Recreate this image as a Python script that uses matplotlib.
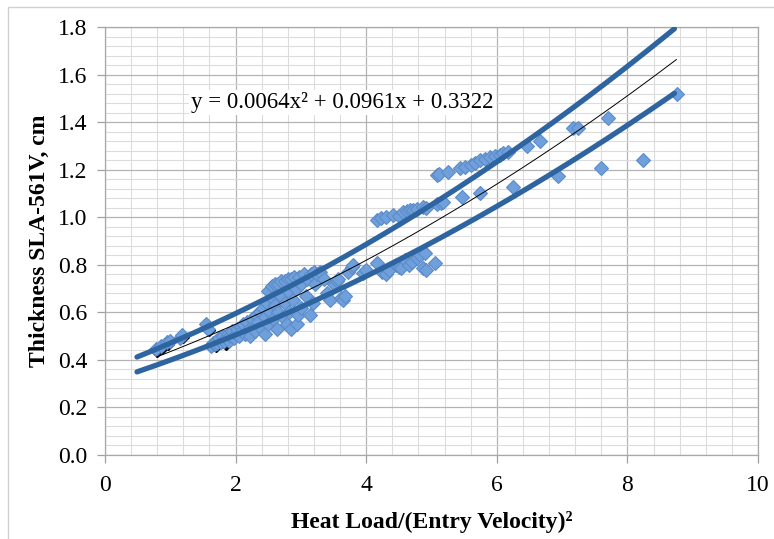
import matplotlib
matplotlib.use("Agg")
import matplotlib.pyplot as plt
import numpy as np
from matplotlib.patches import Rectangle

# ---- data ----
x_pts = [0.78, 0.85, 0.95, 1.00, 1.15, 1.18, 1.55, 1.58,
         1.62, 1.65, 1.68, 1.70, 1.72, 1.75, 1.78, 1.80, 1.82, 1.85, 1.88, 1.90,
         1.92, 1.95, 1.98, 2.00, 2.02, 2.05, 2.08, 2.10, 2.12, 2.15, 2.18, 2.20,
         2.22, 2.25, 2.28, 2.30, 2.32, 2.35, 2.38, 2.40, 2.42, 2.45, 2.45, 2.48,
         2.50, 2.50, 2.52, 2.55, 2.55, 2.58, 2.60, 2.60, 2.63, 2.65, 2.65, 2.70,
         2.70, 2.72, 2.75, 2.75, 2.78, 2.80, 2.80, 2.82, 2.85, 2.85, 2.88, 2.90,
         2.92, 2.94, 2.95, 2.97, 3.00, 3.00, 3.05, 3.08, 3.10, 3.14, 3.15, 3.18,
         3.20, 3.22, 3.25, 3.30, 3.35, 3.40, 3.45, 3.50, 3.55, 3.57, 3.62, 3.65,
         3.68, 3.72, 3.78, 3.80,
         3.95, 4.00, 4.16, 4.24, 4.30, 4.35, 4.45, 4.50, 4.54, 4.60, 4.65, 4.70,
         4.78, 4.82, 4.87, 4.90, 4.92, 5.05,
         4.16, 4.22, 4.31, 4.41, 4.50, 4.57, 4.62, 4.67, 4.72, 4.78, 4.87, 4.92,
         5.08, 5.15, 5.18,
         5.08, 5.12, 5.25, 5.44, 5.51, 5.60, 5.67, 5.74, 5.82, 5.90, 5.98, 6.05,
         6.10, 6.17, 6.46, 6.66, 7.17, 7.25, 7.71, 8.76,
         5.46, 5.74, 6.25, 6.94, 7.60, 8.24]
y_pts = [0.445, 0.460, 0.475, 0.480, 0.490, 0.505, 0.550, 0.530,
         0.460, 0.470, 0.465, 0.480, 0.470, 0.490, 0.475, 0.500, 0.480, 0.490, 0.510, 0.480,
         0.500, 0.520, 0.490, 0.510, 0.530, 0.500, 0.540, 0.520, 0.550, 0.510, 0.560, 0.530,
         0.500, 0.570, 0.540, 0.520, 0.590, 0.560, 0.600, 0.530, 0.620, 0.510, 0.580, 0.640,
         0.550, 0.690, 0.600, 0.710, 0.660, 0.570, 0.720, 0.630, 0.530, 0.600, 0.720, 0.730,
         0.670, 0.580, 0.730, 0.640, 0.550, 0.740, 0.690, 0.600, 0.740, 0.530, 0.650, 0.750,
         0.700, 0.550, 0.590, 0.750, 0.720, 0.620, 0.760, 0.670, 0.740, 0.590, 0.760, 0.640,
         0.770, 0.720, 0.760, 0.770, 0.740, 0.680, 0.650, 0.720, 0.730, 0.740, 0.660, 0.650,
         0.670, 0.770, 0.790, 0.800,
         0.765, 0.780, 0.807, 0.771, 0.760, 0.780, 0.800, 0.790, 0.786, 0.820, 0.800, 0.810,
         0.830, 0.840, 0.786, 0.850, 0.780, 0.807,
         0.988, 0.995, 1.000, 1.010, 1.005, 1.020, 1.025, 1.030, 1.030, 1.035, 1.044, 1.040,
         1.055, 1.060, 1.065,
         1.177, 1.180, 1.190, 1.205, 1.210, 1.220, 1.228, 1.240, 1.245, 1.254, 1.258, 1.260,
         1.270, 1.275, 1.300, 1.320, 1.375, 1.375, 1.417, 1.518,
         1.086, 1.100, 1.128, 1.173, 1.208, 1.240]

# dark (shadow) series near the low end
x_dark = [0.80, 0.87, 0.97, 1.20, 1.60, 1.70, 1.85]
y_dark = [0.438, 0.452, 0.465, 0.495, 0.527, 0.458, 0.465]

# quadratic trendline coefficients (as displayed) and band factors
coef = [0.0064, 0.0961, 0.3322]
trend_range = [0.79, 8.75]
band_range = [0.49, 8.72]
band_upper = 1.082
band_lower = 0.918

x_ticks = [0, 2, 4, 6, 8, 10]
y_ticks = [0.0, 0.2, 0.4, 0.6, 0.8, 1.0, 1.2, 1.4, 1.6, 1.8]

plt.rcParams['font.family'] = ['Liberation Serif', 'DejaVu Serif']

W, H = 774, 539
fig = plt.figure(figsize=(W / 100, H / 100), dpi=100)
ax = fig.add_axes([105 / W, 1 - 455 / H, (758 - 105) / W, (455 - 27) / H])

# outer chart-area frame
fig.patches.append(Rectangle((8 / W, -0.05), 1.0, 1 - 7 / H + 0.05, transform=fig.transFigure,
                             fill=False, edgecolor='#d0d0d0', linewidth=1.0))

ax.set_xlim(0, 10)
ax.set_ylim(0, 1.8)
ax.set_xticks(x_ticks)
ax.set_yticks(y_ticks)
ax.set_xticklabels([str(v) for v in x_ticks])
ax.set_yticklabels([f"{v:.1f}" for v in y_ticks])
ax.set_xticks(np.arange(0, 10.01, 0.4), minor=True)
ax.set_yticks(np.arange(0, 1.801, 0.04), minor=True)
ax.grid(which='major', color='#b4b4b4', linewidth=0.9)
ax.grid(which='minor', color='#dcdcdc', linewidth=0.8)
ax.set_axisbelow(True)
ax.tick_params(which='major', direction='out', length=5.5, width=0.9, color='#a0a0a0',
               labelsize=17)
ax.tick_params(axis='x', which='major', pad=9)
ax.tick_params(axis='y', which='major', pad=7)
ax.tick_params(which='minor', length=0)
for s in ax.spines.values():
    s.set_color('#a8a8a8')
    s.set_linewidth(0.9)

# scatter
ax.plot(x_dark, y_dark, linestyle='none', marker='D', markersize=6,
        markerfacecolor='#1a1a1a', markeredgecolor='#000000', zorder=2)
ax.plot(x_pts, y_pts, linestyle='none', marker='D', markersize=7.5,
        markerfacecolor='#6fa0dc', markeredgecolor='#5b8cc8', markeredgewidth=0.8, zorder=3)

# curves
p = np.poly1d(coef)
xb = np.linspace(band_range[0], band_range[1], 200)
xt = np.linspace(trend_range[0], trend_range[1], 200)
ax.plot(xb, p(xb) * band_upper, color='#2e649f', linewidth=3.8, solid_capstyle='round', zorder=4)
ax.plot(xb, p(xb) * band_lower, color='#2e649f', linewidth=3.8, solid_capstyle='round', zorder=4)
ax.plot(xt, p(xt), color='black', linewidth=0.7, zorder=5)

ax.text(3.64, 1.484, "y = 0.0064x\u00b2 + 0.0961x + 0.3322", fontsize=16.5,
        ha='center', va='center', zorder=6,
        bbox=dict(facecolor='white', edgecolor='none', pad=1.5))

ax.set_xlabel("Heat Load/(Entry Velocity)\u00b2", fontsize=17, fontweight='bold', labelpad=11)
ax.set_ylabel("Thickness SLA-561V, cm", fontsize=17, fontweight='bold', labelpad=6)

fig.savefig("out.png", dpi=100)
